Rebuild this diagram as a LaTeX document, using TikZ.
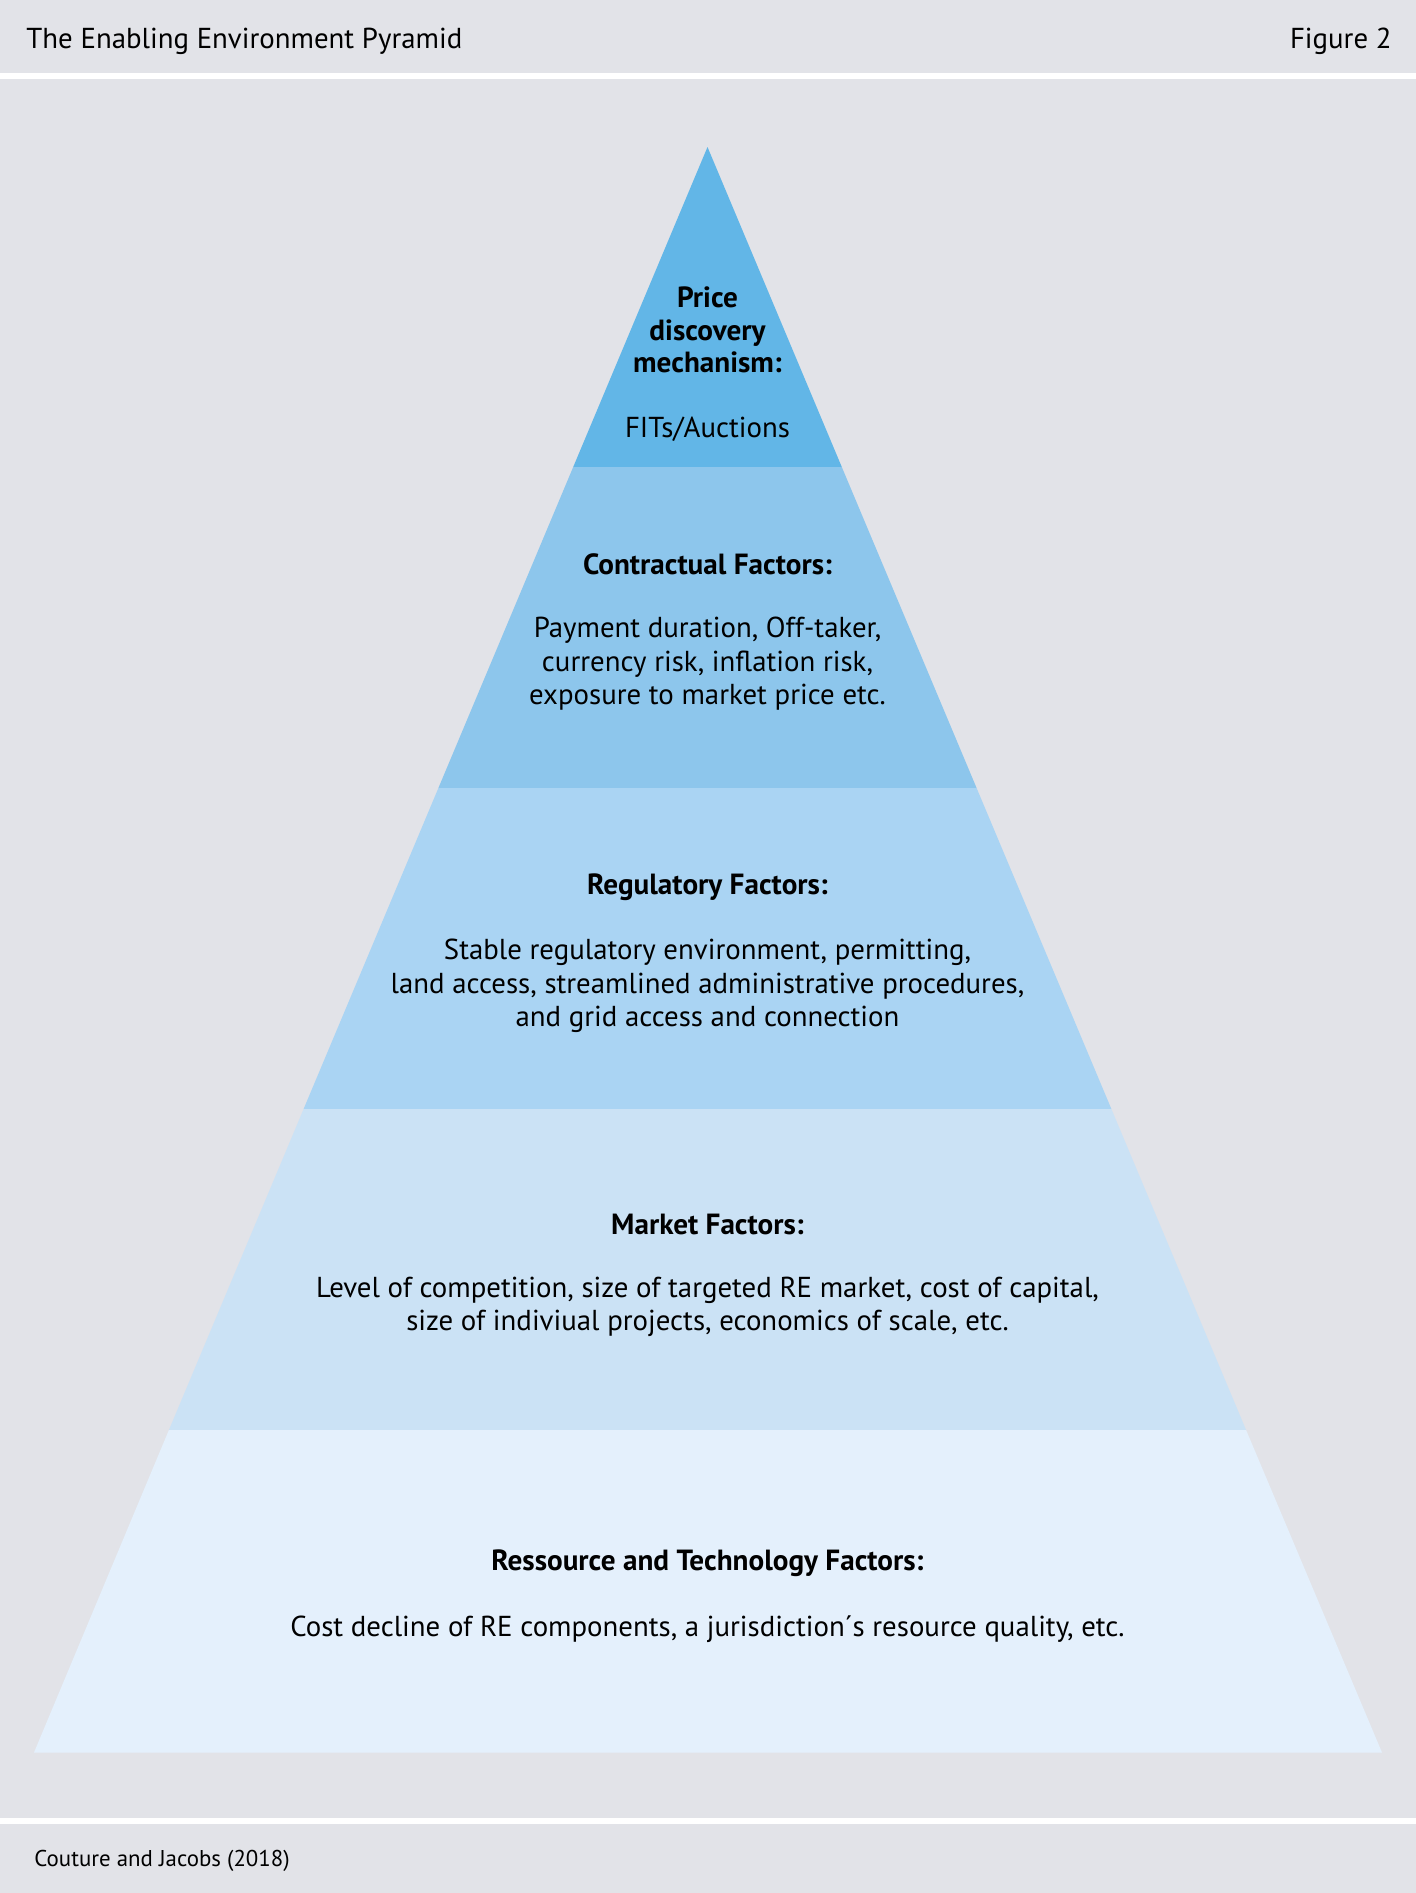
\documentclass[tikz,border=0pt]{standalone}
\usepackage{fontspec}
\setmainfont{PT Sans}
\usepackage{tikz}

\definecolor{bggray}{HTML}{E2E3E8}
\definecolor{layerA}{HTML}{62B6E7}
\definecolor{layerB}{HTML}{8DC6EC}
\definecolor{layerC}{HTML}{AAD4F3}
\definecolor{layerD}{HTML}{CBE2F5}
\definecolor{layerE}{HTML}{E4F0FC}

\begin{document}
\begin{tikzpicture}[x=0.01cm, y=-0.01cm,
    head/.style={font=\fontsize{8.3}{9.2}\selectfont\bfseries, align=center},
    body/.style={font=\fontsize{8.2}{9.5}\selectfont, align=center}]
    % Background and bands
    \useasboundingbox (0,0) rectangle (1416,1893);
    \fill[bggray] (0,0) rectangle (1416,1893);
    \fill[white] (0,73) rectangle (1416,79);
    \fill[white] (0,1818) rectangle (1416,1824);

    % Header and footer
    \node[anchor=west, font=\fontsize{8.2}{9}\selectfont] (title) at (14,41) {The Enabling Environment Pyramid};
    \node[anchor=east, font=\fontsize{8.2}{9}\selectfont] (fig) at (1404,41) {Figure 2};
    \node[anchor=west, font=\fontsize{6.5}{8}\selectfont] (source) at (22,1861) {Couture and Jacobs (2018)};

    % Pyramid layers
    \fill[layerA] (707.5,147) -- (841.8,467) -- (573.2,467) -- cycle;
    \fill[layerB] (573.2,467) -- (841.8,467) -- (976.6,788) -- (438.4,788) -- cycle;
    \fill[layerC] (438.4,788) -- (976.6,788) -- (1111.4,1109) -- (303.6,1109) -- cycle;
    \fill[layerD] (303.6,1109) -- (1111.4,1109) -- (1246.1,1430) -- (168.9,1430) -- cycle;
    \fill[layerE] (168.9,1430) -- (1246.1,1430) -- (1382,1752.5) -- (34,1752.5) -- cycle;

    % Price discovery
    \node[head] (price) at (707.5,330) {Price\\discovery\\mechanism:};
    \node[body] (pricetxt) at (707.5,429) {FITs/Auctions};

    % Contractual
    \node[head] (contract) at (707.5,564) {Contractual Factors:};
    \node[body] (contracttxt) at (707.5,664) {Payment duration, Off-taker,\\currency risk, inflation risk,\\exposure to market price etc.};

    % Regulatory
    \node[head] (regul) at (707.5,887) {Regulatory Factors:};
    \node[body] (regultxt) at (707.5,986) {Stable regulatory environment, permitting,\\land access, streamlined administrative procedures,\\and grid access and connection};

    % Market
    \node[head] (market) at (707.5,1224) {Market Factors:};
    \node[body] (markettxt) at (707.5,1307) {Level of competition, size of targeted RE market, cost of capital,\\size of indiviual projects, economics of scale, etc.};

    % Resource and technology
    \node[head] (resource) at (707.5,1563) {Ressource and Technology Factors:};
    \node[body] (resourcetxt) at (707.5,1629) {Cost decline of RE components, a jurisdiction´s resource quality, etc.};
\end{tikzpicture}
\end{document}
